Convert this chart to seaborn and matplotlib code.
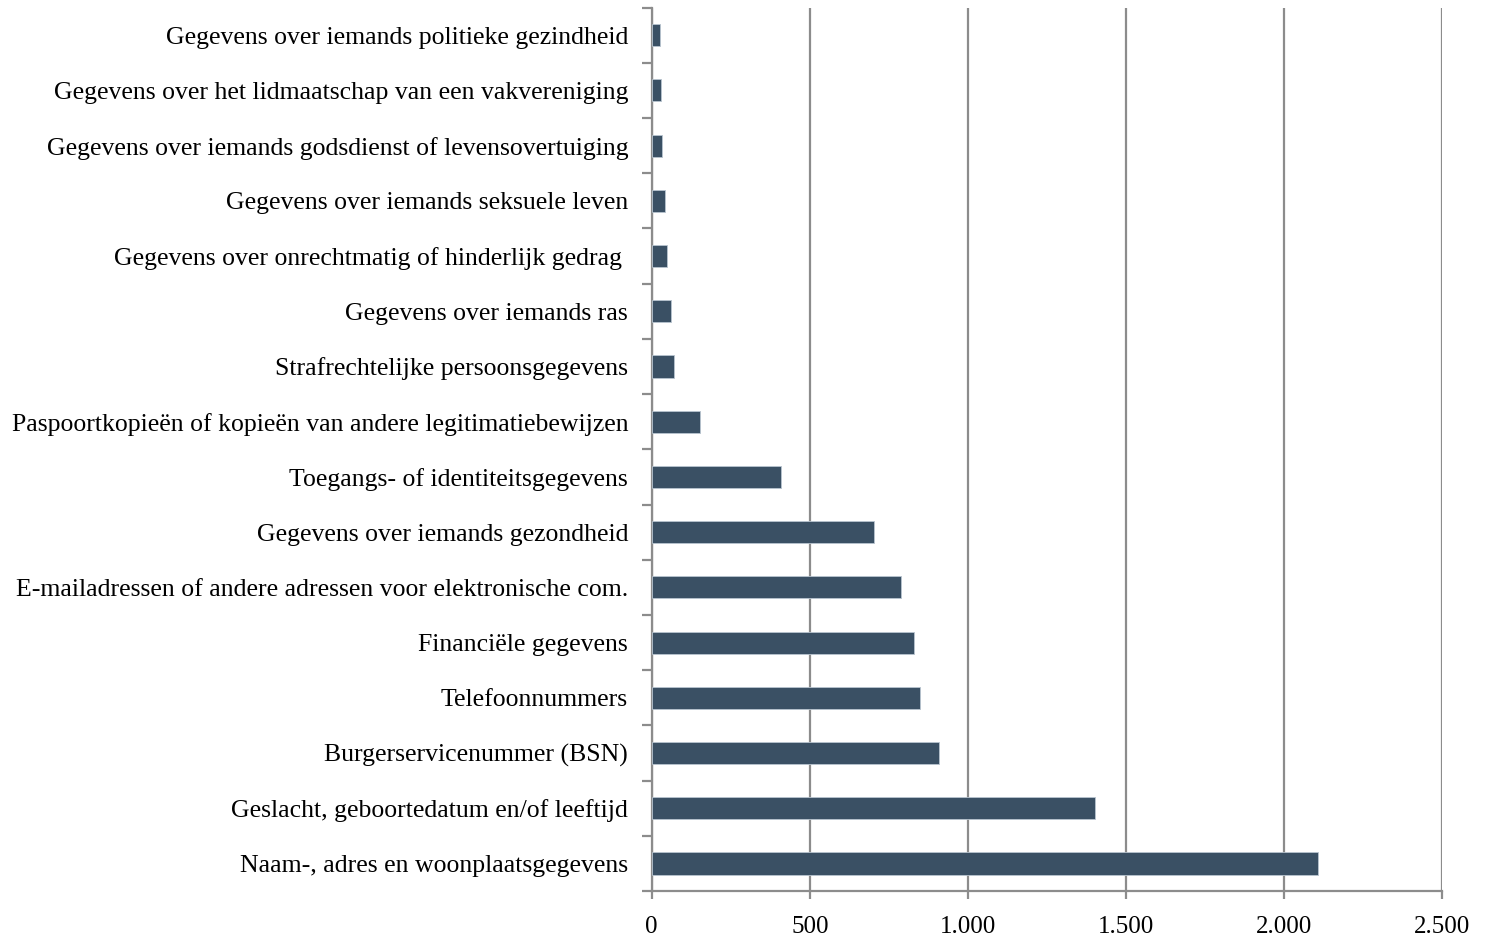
import matplotlib
matplotlib.use("Agg")
import matplotlib.pyplot as plt
from matplotlib.ticker import FuncFormatter, FixedLocator
import seaborn as sns
import pandas as pd

categories = [
    "Gegevens over iemands politieke gezindheid",
    "Gegevens over het lidmaatschap van een vakvereniging",
    "Gegevens over iemands godsdienst of levensovertuiging",
    "Gegevens over iemands seksuele leven",
    "Gegevens over onrechtmatig of hinderlijk gedrag ",
    "Gegevens over iemands ras",
    "Strafrechtelijke persoonsgegevens",
    "Paspoortkopieën of kopieën van andere legitimatiebewijzen",
    "Toegangs- of identiteitsgegevens",
    "Gegevens over iemands gezondheid",
    "E-mailadressen of andere adressen voor elektronische com.",
    "Financiële gegevens",
    "Telefoonnummers",
    "Burgerservicenummer (BSN)",
    "Geslacht, geboortedatum en/of leeftijd",
    "Naam-, adres en woonplaatsgegevens",
]
counts = [25, 29, 33, 42, 47, 61, 69, 152, 410, 704, 790, 830, 849, 910, 1401, 2108]
xticks = [0, 500, 1000, 1500, 2000, 2500]

df = pd.DataFrame({"categorie": categories, "aantal": counts})

sns.set_style("white")
plt.rcParams["font.family"] = ["Liberation Serif", "DejaVu Serif"]

fig = plt.figure(figsize=(14.88, 9.39), dpi=100)
ax = fig.add_axes([0.438, 0.051, 0.531, 0.941])

grey = "#8c8c8c"
sns.barplot(data=df, x="aantal", y="categorie", orient="h", color="#3a5064",
            saturation=1, width=0.4, edgecolor="#b8c4cf", linewidth=0.6, ax=ax, zorder=3)

ax.set_xlim(0, 2500)
ax.set_ylim(len(categories) - 0.5, -0.5)
ax.set_xticks(xticks)
ax.xaxis.set_major_formatter(FuncFormatter(lambda v, p: f"{int(v):,}".replace(",", ".")))
ax.grid(axis="x", color=grey, linewidth=1.6, zorder=0)
ax.set_axisbelow(True)

# Excel-achtige streepjes tussen de categorieën
ax.yaxis.set_minor_locator(FixedLocator([i - 0.5 for i in range(len(categories) + 1)]))
ax.tick_params(axis="y", which="major", left=True, length=0, pad=17, labelsize=18.5,
               colors="black")
ax.tick_params(axis="y", which="minor", left=True, length=7, width=1.6, color=grey,
               direction="out")
ax.tick_params(axis="x", which="major", bottom=True, length=6, width=1.6, color=grey,
               pad=12, labelsize=18, labelcolor="black")

for s in ["top", "right"]:
    ax.spines[s].set_visible(False)
for s in ["left", "bottom"]:
    ax.spines[s].set_color(grey)
    ax.spines[s].set_linewidth(1.6)

ax.set_xlabel("")
ax.set_ylabel("")

fig.savefig("out.png", dpi=100)
